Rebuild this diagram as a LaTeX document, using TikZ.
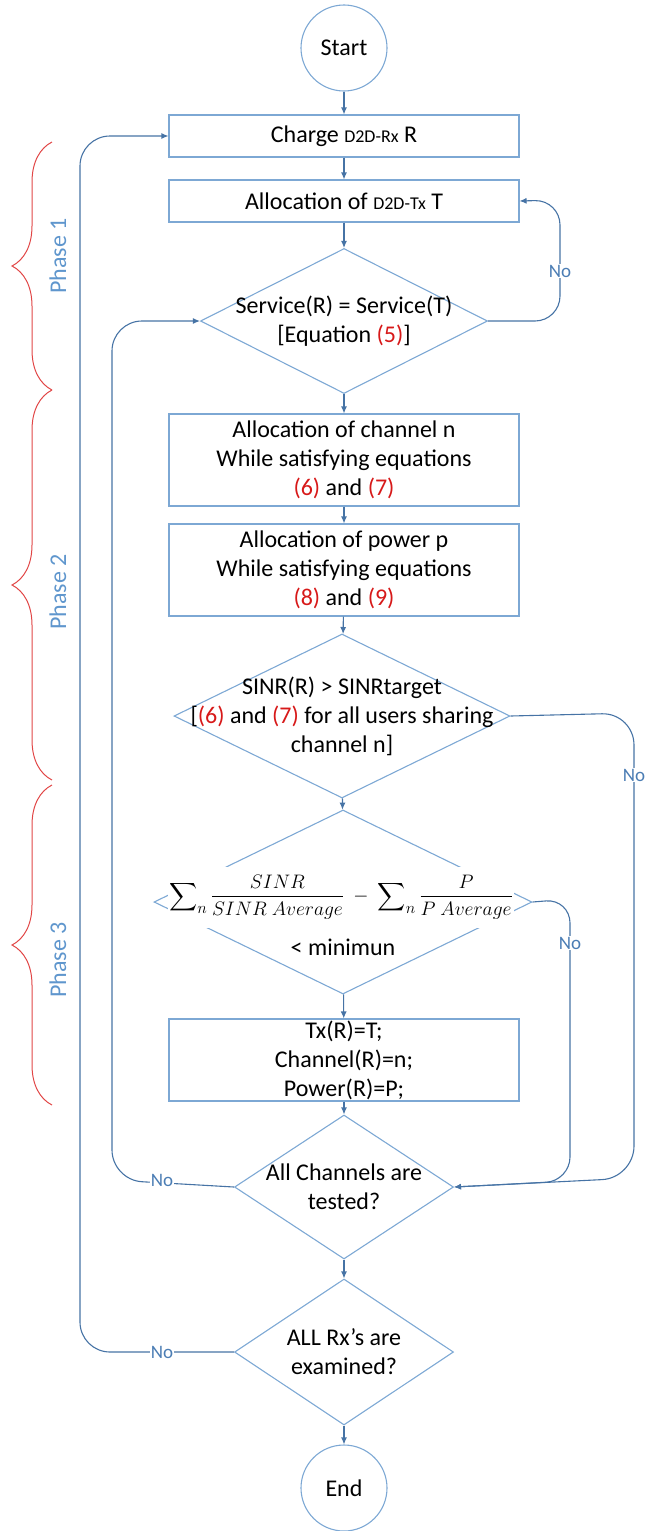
\documentclass[tikz,border=0pt]{standalone}
\usepackage{amsmath}
\usepackage{fontspec}
\setmainfont{Carlito}
\usetikzlibrary{shapes.geometric,arrows.meta,decorations.pathreplacing}
\definecolor{boxline}{RGB}{125,168,212}
\definecolor{arrowc}{RGB}{70,115,165}
\definecolor{nocol}{RGB}{75,125,180}
\definecolor{phasec}{RGB}{95,150,205}
\definecolor{bracec}{RGB}{225,70,70}
\definecolor{eqred}{RGB}{215,25,25}
\newcommand{\rednum}[1]{\textcolor{eqred}{(#1)}}
\begin{document}
\begin{tikzpicture}[x=1pt,y=-1pt,
  every node/.style={font=\fontsize{24}{29}\selectfont},
  procbox/.style={draw=boxline,line width=1.1pt,minimum width=350pt,inner sep=0pt,align=center},
  decbox/.style={draw=boxline,line width=1.1pt,diamond,inner sep=0pt},
  termc/.style={draw=boxline,line width=1.1pt,circle,minimum size=86pt,inner sep=0pt},
  txt/.style={align=center,inner sep=0pt},
  flow/.style={draw=arrowc,line width=1.1pt,-{Latex[length=7pt,width=6pt]}},
  nolab/.style={fill=white,text=nocol,font=\fontsize{19}{22}\selectfont,inner sep=1pt},
  phaselab/.style={text=phasec,rotate=90},
  phbrace/.style={draw=bracec,line width=1pt,decorate,decoration={brace,amplitude=40pt}}
]
\useasboundingbox (0,0) rectangle (653,1531);

% terminals and boxes
\node[termc] (start) at (344,48) {Start};
\node[procbox,minimum height=42pt] (charge) at (344,136) {Charge {\fontsize{18}{20}\selectfont D2D-Rx} R};
\node[procbox,minimum height=42pt] (alloctx) at (344,201) {Allocation of {\fontsize{18}{20}\selectfont D2D-Tx} T};
\node[decbox,minimum width=287pt,minimum height=145pt] (d1) at (344,321) {};
\node[txt] (t1) at (d1.center) {Service(R) = Service(T)\\{}[Equation \rednum{5}]};
\node[procbox,minimum height=92pt] (chan) at (344,460) {Allocation of channel n\\While satisfying equations\\\rednum{6} and \rednum{7}};
\node[procbox,minimum height=92pt] (pow) at (344,570) {Allocation of power p\\While satisfying equations\\\rednum{8} and \rednum{9}};
\node[decbox,minimum width=336pt,minimum height=164pt] (d3) at (342,716) {};
\node[txt] (t3) at (d3.center) {SINR(R) > SINRtarget\\{}[\rednum{6} and \rednum{7} for all users sharing\\channel n]};
\node[decbox,minimum width=378pt,minimum height=184pt] (d4) at (343,902) {};
\node[fill=white,minimum width=346pt,minimum height=61pt,inner sep=0pt,font=\fontsize{19}{22}\selectfont] (form) at (341,897)
  {\scalebox{1.13}{$\displaystyle\sum\nolimits_n \frac{SINR}{SINR\ Average}\ -\ \sum\nolimits_n \frac{P}{P\ Average}$}};
\node[txt] (t4) at (343,947) {< minimun};
\node[procbox,minimum height=82pt] (res) at (344,1060) {Tx(R)=T;\\Channel(R)=n;\\Power(R)=P;};
\node[decbox,minimum width=219pt,minimum height=144pt] (d5) at (344,1187) {};
\node[txt] (t5) at (d5.center) {All Channels are\\tested?};
\node[decbox,minimum width=219pt,minimum height=146pt] (d6) at (344,1352) {};
\node[txt] (t6) at (d6.center) {ALL Rx’s are\\examined?};
\node[termc] (end) at (344,1488) {End};

% main flow
\draw[flow] (start) -- (charge);
\draw[flow] (charge) -- (alloctx);
\draw[flow] (alloctx) -- (d1);
\draw[flow] (d1) -- (chan);
\draw[flow] (chan) -- (pow);
\draw[flow] (pow) -- (d3);
\draw[flow] (d3) -- (d4);
\draw[flow] (d4) -- (res);
\draw[flow] (res) -- (d5);
\draw[flow] (d5) -- (d6);
\draw[flow] (d6) -- (end);

% loops
\coordinate (c1a) at (560,321);
\coordinate (c1b) at (560,200);
\draw[flow,rounded corners=25pt] (d1.east) -- (c1a) -- (c1b) -- (alloctx.east);
\coordinate (c3a) at (634,713);
\coordinate (c3b) at (634,1178);
\draw[flow,rounded corners=32pt] (d3.east) -- (c3a) -- (c3b) -- (d5.east);
\coordinate (c4a) at (570,899);
\coordinate (c4b) at (570,1181);
\draw[flow,rounded corners=24pt] (d4.east) -- (c4a) -- (c4b) -- (d5.east);
\coordinate (c5a) at (112,1180);
\coordinate (c5b) at (112,321);
\draw[flow,rounded corners=30pt] (d5.west) -- (c5a) -- (c5b) -- (d1.west);
\coordinate (c6a) at (80,1352);
\coordinate (c6b) at (80,136);
\draw[flow,rounded corners=30pt] (d6.west) -- (c6a) -- (c6b) -- (charge.west);

\node[nolab] (no1) at (560,271) {No};
\node[nolab] (no3) at (634,775) {No};
\node[nolab] (no4) at (570,943) {No};
\node[nolab] (no5) at (162,1180) {No};
\node[nolab] (no6) at (162,1352) {No};

% phases
\draw[phbrace] (52,390) -- (52,142);
\draw[phbrace] (52,780) -- (52,390);
\draw[phbrace] (52,1105) -- (52,785);
\node[phaselab] (ph1) at (58,256) {Phase 1};
\node[phaselab] (ph2) at (58,592) {Phase 2};
\node[phaselab] (ph3) at (58,960) {Phase 3};
\end{tikzpicture}
\end{document}
